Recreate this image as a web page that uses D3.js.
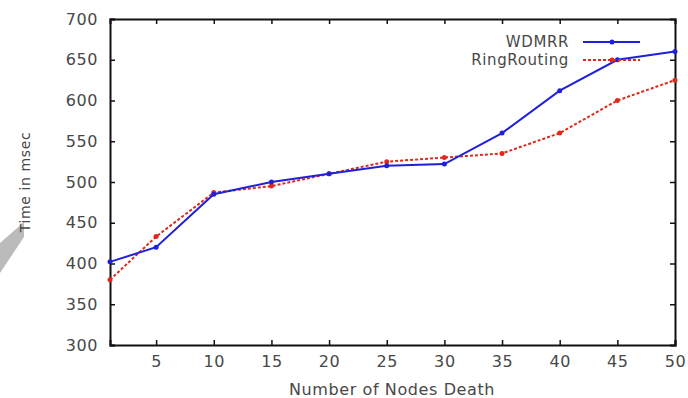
<!DOCTYPE html>
<html>
<head>
<meta charset="utf-8">
<script src="https://cdn.jsdelivr.net/npm/d3@7"></script>
<style>
  body { margin: 0; background: #fff; }
  text { font-family: "DejaVu Sans", sans-serif; letter-spacing: 0.6px; }
</style>
</head>
<body>
<div id="chart"></div>
<script>
// data
let nodes = [1, 5, 10, 15, 20, 25, 30, 35, 40, 45, 50];
let wdmrr = [402, 420, 485, 500, 510, 520, 522, 560, 612, 650, 660];
let ringRouting = [380, 433, 487, 495, 510, 525, 530, 535, 560, 600, 625];
let xTicks = [5, 10, 15, 20, 25, 30, 35, 40, 45, 50];
let yTicks = [300, 350, 400, 450, 500, 550, 600, 650, 700];

let width = 688, height = 398;
let margin = {left: 110, right: 13, top: 19, bottom: 53};

let xScale = d3.scaleLinear().domain([1, 50]).range([margin.left, width - margin.right]);
let yScale = d3.scaleLinear().domain([300, 700]).range([height - margin.bottom, margin.top]);

let svg = d3.select("#chart").append("svg")
  .attr("width", width)
  .attr("height", height);

// grey smudge at the left edge of the scan
svg.append("path")
  .attr("d", "M0,243 L24,222 L24,237 L0,273 Z")
  .attr("fill", "#bbbbbb");

let labelColor = "#484848";

// axes, ticks point inward on every side
let axisB = svg.append("g")
  .attr("transform", "translate(0," + yScale(300) + ")")
  .call(d3.axisBottom(xScale).tickValues(xTicks).tickSize(-5).tickPadding(11));
let axisT = svg.append("g")
  .attr("transform", "translate(0," + yScale(700) + ")")
  .call(d3.axisTop(xScale).tickValues(xTicks.slice(0, -1)).tickSize(-5).tickFormat(""));
let axisL = svg.append("g")
  .attr("transform", "translate(" + xScale(1) + ",0)")
  .call(d3.axisLeft(yScale).tickValues(yTicks).tickSize(-5).tickPadding(12));
let axisR = svg.append("g")
  .attr("transform", "translate(" + xScale(50) + ",0)")
  .call(d3.axisRight(yScale).tickValues(yTicks.slice(1, -1)).tickSize(-5).tickFormat(""));

[axisB, axisT, axisL, axisR].forEach(function(g) {
  g.select(".domain").attr("stroke", "#111").attr("stroke-width", 2);
  g.selectAll(".tick line").attr("stroke", "#111").attr("stroke-width", 1.5);
  g.selectAll(".tick text")
    .attr("fill", labelColor)
    .attr("font-family", "DejaVu Sans, sans-serif")
    .attr("font-size", 16);
});

// series
let series = [
  {name: "WDMRR", values: wdmrr, color: "#2020d8", dash: null},
  {name: "RingRouting", values: ringRouting, color: "#e0281c", dash: "3,2"}
];

let line = d3.line()
  .x(function(d, i) { return xScale(nodes[i]); })
  .y(function(d) { return yScale(d); });

series.slice().reverse().forEach(function(s) {
  svg.append("path")
    .datum(s.values)
    .attr("d", line)
    .attr("fill", "none")
    .attr("stroke", s.color)
    .attr("stroke-width", 2)
    .attr("stroke-dasharray", s.dash);
  svg.selectAll(null)
    .data(s.values)
    .enter()
    .append("circle")
    .attr("cx", function(d, i) { return xScale(nodes[i]); })
    .attr("cy", function(d) { return yScale(d); })
    .attr("r", 2.5)
    .attr("fill", s.color);
});

// legend
series.forEach(function(s, i) {
  let y = 42 + i * 18;
  svg.append("text")
    .attr("x", 569)
    .attr("y", y)
    .attr("dy", "0.35em")
    .attr("text-anchor", "end")
    .attr("font-size", 15)
    .attr("fill", labelColor)
    .text(s.name);
  svg.append("line")
    .attr("x1", 583).attr("x2", 640)
    .attr("y1", y).attr("y2", y)
    .attr("stroke", s.color)
    .attr("stroke-width", 2)
    .attr("stroke-dasharray", s.dash);
  svg.append("circle")
    .attr("cx", 612).attr("cy", y).attr("r", 2.5)
    .attr("fill", s.color);
});

// axis titles
svg.append("text")
  .attr("x", 392)
  .attr("y", 389)
  .attr("dy", "0.35em")
  .attr("text-anchor", "middle")
  .attr("font-size", 16)
  .attr("fill", labelColor)
  .text("Number of Nodes Death");

svg.append("text")
  .attr("transform", "translate(25,182) rotate(-90)")
  .attr("dy", "0.35em")
  .attr("text-anchor", "middle")
  .attr("font-size", 14)
  .attr("fill", labelColor)
  .text("Time in msec");
</script>
</body>
</html>
